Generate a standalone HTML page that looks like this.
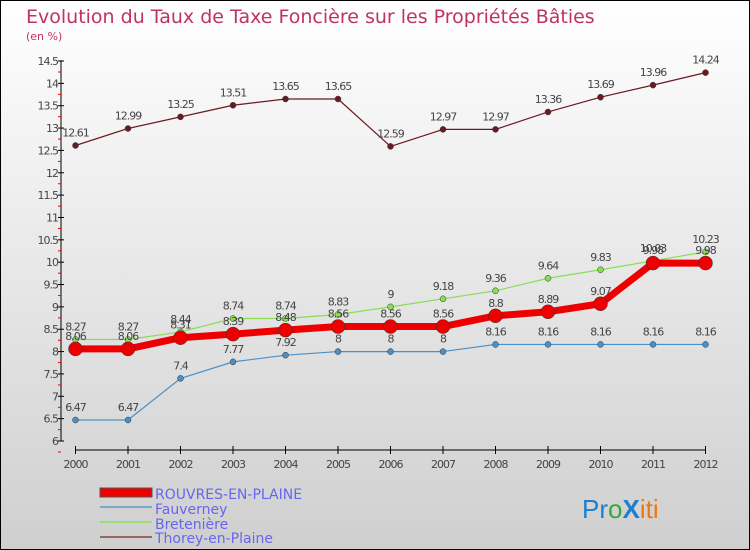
<!DOCTYPE html>
<html><head><meta charset="utf-8"><style>
body{margin:0}
#c{width:750px;height:550px;position:relative;overflow:hidden;font-family:"DejaVu Sans","Liberation Sans",sans-serif}
</style></head><body>
<div id="c">
<svg id="s" width="750" height="550" xmlns="http://www.w3.org/2000/svg">
<defs><linearGradient id="bg" x1="0" y1="0" x2="0" y2="1"><stop offset="0" stop-color="#ffffff"/><stop offset="1" stop-color="#cfcfcf"/></linearGradient></defs>
<rect x="0.5" y="0.5" width="749" height="549" fill="url(#bg)" stroke="#000"/>
<text x="26" y="23" font-size="19" fill="#c0335f">Evolution du Taux de Taxe Foncière sur les Propriétés Bâties</text>
<text x="26" y="40" font-size="11" fill="#c0335f">(en %)</text>
<g id="axes"></g><g id="series"></g>
<g>
<rect x="100" y="488" width="52" height="9" fill="#e00" stroke="#555" stroke-width="1"/>
<text x="155" y="499" font-size="14" fill="#6666ee">ROUVRES-EN-PLAINE</text>
<line x1="100" y1="507" x2="152" y2="507" stroke="#7aa9cc" stroke-width="2"/>
<text x="155" y="514" font-size="14" fill="#6666ee">Fauverney</text>
<line x1="100" y1="522" x2="152" y2="522" stroke="#99dd77" stroke-width="2"/>
<text x="155" y="529" font-size="14" fill="#6666ee">Bretenière</text>
<line x1="100" y1="537" x2="152" y2="537" stroke="#996666" stroke-width="2"/>
<text x="155" y="543" font-size="14" fill="#6666ee">Thorey-en-Plaine</text>
</g>
<g font-size="26" font-family="Liberation Sans,sans-serif">
<text x="582" y="518"><tspan fill="#1a7fd0">Pr</tspan><tspan fill="#33aa33">o</tspan><tspan fill="#1a7fd0" font-weight="bold">X</tspan><tspan fill="#ee7711">iti</tspan></text>
</g>
</svg></div>
<script>
const years=[2000,2001,2002,2003,2004,2005,2006,2007,2008,2009,2010,2011,2012];
const rouvres=[8.06,8.06,8.31,8.39,8.48,8.56,8.56,8.56,8.8,8.89,9.07,9.98,9.98];
const fauverney=[6.47,6.47,7.4,7.77,7.92,8,8,8,8.16,8.16,8.16,8.16,8.16];
const bretenière=[8.27,8.27,8.44,8.74,8.74,8.83,9,9.18,9.36,9.64,9.83,10.03,10.23];
const thorey=[12.61,12.99,13.25,13.51,13.65,13.65,12.59,12.97,12.97,13.36,13.69,13.96,14.24];
const yTicks=[6,6.5,7,7.5,8,8.5,9,9.5,10,10.5,11,11.5,12,12.5,13,13.5,14,14.5];
const NS="http://www.w3.org/2000/svg";
const X=i=>75.5+i*(705.5-75.5)/12;
const Y=v=>441-(v-6)*(380/8.5);
function mk(t,a,p){const e=document.createElementNS(NS,t);for(const k in a)e.setAttribute(k,a[k]);p.appendChild(e);return e;}
const ax=document.getElementById('axes'),sg=document.getElementById('series');
mk('line',{x1:61,y1:60,x2:61,y2:441,stroke:'#000'},ax);
mk('line',{x1:75,y1:450,x2:706,y2:450,stroke:'#000'},ax);
yTicks.forEach(v=>{const y=Y(v);
 mk('line',{x1:58,y1:y,x2:64,y2:y,stroke:'#000'},ax);
 mk('line',{x1:58,y1:y+11,x2:61,y2:y+11,stroke:'#e00'},ax);
 const t=mk('text',{x:58,y:y+4,'font-size':11,'text-anchor':'end',fill:'#444','letter-spacing':'-1'},ax);t.textContent=v;
 
 });
years.forEach((yr,i)=>{const x=X(i);
 mk('line',{x1:x,y1:446,x2:x,y2:454,stroke:'#000'},ax);
 const t=mk('text',{x:x,y:468,'font-size':11,'text-anchor':'middle',fill:'#444','letter-spacing':'-1'},ax);t.textContent=yr;
 
 });
function series(d,col,w,r,name){
 const p=mk('polyline',{points:d.map((v,i)=>X(i)+','+Y(v)).join(' '),fill:'none',stroke:col,'stroke-width':w,'stroke-linejoin':'round'},sg);
 
 
 d.forEach((v,i)=>{const c=mk('circle',{cx:X(i),cy:Y(v),r:r,fill:col,stroke:'#333','stroke-width':0.5},sg);
  
  
  const t=mk('text',{x:X(i),y:Y(v)-9,'font-size':11,'text-anchor':'middle',fill:'#444','letter-spacing':'-1'},sg);t.textContent=v;
  
  });
}
series(thorey,'#6b1a22',1.2,3,'thorey');
series(fauverney,'#4a90c8',1.2,3,'fauverney');
series(bretenière,'#88dd55',1.2,3,'bretenière');
series(rouvres,'#ee0000',7,7,'rouvres');
</script>
</body></html>
